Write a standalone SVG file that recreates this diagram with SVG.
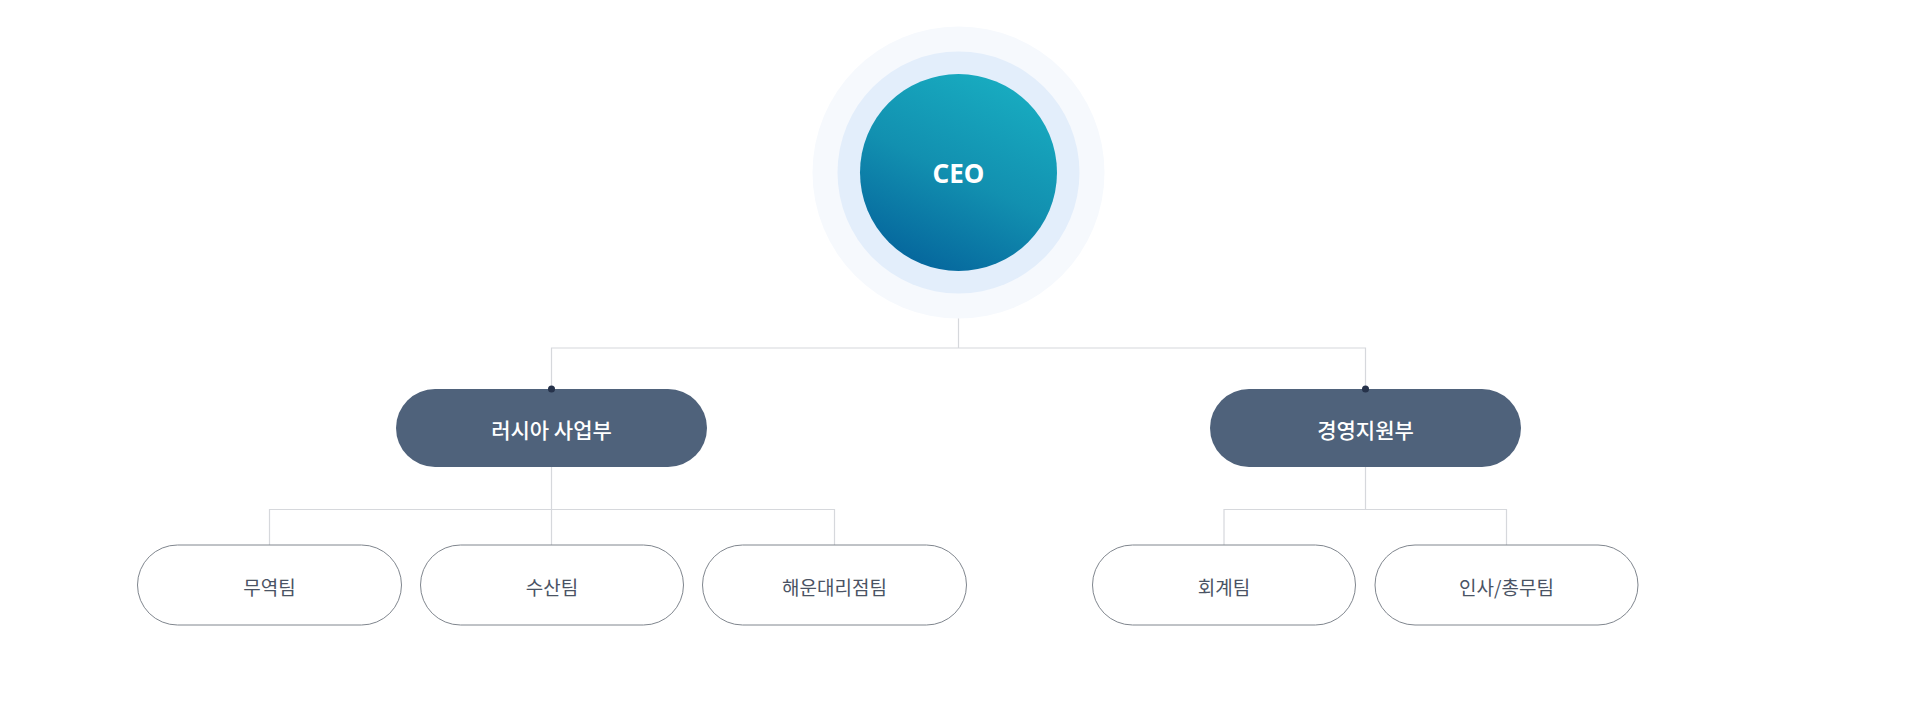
<svg xmlns="http://www.w3.org/2000/svg" width="1919" height="703" viewBox="0 0 1919 703">
  <defs>
    <linearGradient id="ceoGrad" x1="0.75" y1="0.05" x2="0.3" y2="1">
      <stop offset="0" stop-color="#18abc0"/>
      <stop offset="0.5" stop-color="#1290b0"/>
      <stop offset="1" stop-color="#05659c"/>
    </linearGradient>
    <style>
      .conn { stroke: #d6d8dc; stroke-width: 1.2; fill: none; }
      .dot { fill: #26324a; }
      .dept rect { fill: #4f627b; }
      .dept text { fill: #ffffff; font-family: "Noto Sans CJK KR", "Noto Sans", sans-serif; font-size: 21px; font-weight: 500; text-anchor: middle; dominant-baseline: central; }
      .team rect { fill: #ffffff; stroke: #80868e; stroke-width: 1; }
      .team text { fill: #4a5364; font-family: "Noto Sans CJK KR", "Noto Sans", sans-serif; font-size: 19px; font-weight: 400; text-anchor: middle; dominant-baseline: central; }
      .ceo text { fill: #ffffff; font-family: "Noto Sans", "Noto Sans CJK KR", sans-serif; font-size: 26px; font-weight: 700; text-anchor: middle; dominant-baseline: central; }
    </style>
  </defs>
  <rect width="1919" height="703" fill="#ffffff"/>

  <g id="connectors">
    <line class="conn" x1="958.5" y1="290" x2="958.5" y2="348"/>
    <polyline class="conn" points="551.5,389 551.5,348 1365.5,348 1365.5,389"/>
    <line class="conn" x1="551.5" y1="467" x2="551.5" y2="509.5"/>
    <polyline class="conn" points="269.5,545 269.5,509.5 834.5,509.5 834.5,545"/>
    <line class="conn" x1="551.5" y1="509.5" x2="551.5" y2="545"/>
    <line class="conn" x1="1365.5" y1="467" x2="1365.5" y2="509.5"/>
    <polyline class="conn" points="1224,545 1224,509.5 1506.5,509.5 1506.5,545"/>
  </g>

  <g id="ceo" class="ceo">
    <circle cx="958.5" cy="172.5" r="146" fill="#f6f9fd"/>
    <circle cx="958.5" cy="172.5" r="121" fill="#e3eefb"/>
    <circle cx="958.5" cy="172.5" r="98.5" fill="url(#ceoGrad)"/>
    <text x="958.5" y="173">CEO</text>
  </g>

  <g id="dept-russia" class="dept">
    <rect x="396" y="389" width="311" height="78" rx="39" ry="39"/>
    <circle class="dot" cx="551.5" cy="389" r="3.5"/>
    <text x="551.5" y="429">러시아 사업부</text>
  </g>

  <g id="dept-management" class="dept">
    <rect x="1210" y="389" width="311" height="78" rx="39" ry="39"/>
    <circle class="dot" cx="1365.5" cy="389" r="3.5"/>
    <text x="1365.5" y="429">경영지원부</text>
  </g>

  <g id="team-trade" class="team">
    <rect x="137.5" y="545" width="264" height="80" rx="40" ry="40"/>
    <text x="269.5" y="586">무역팀</text>
  </g>

  <g id="team-fishery" class="team">
    <rect x="420.5" y="545" width="263" height="80" rx="40" ry="40"/>
    <text x="552" y="586">수산팀</text>
  </g>

  <g id="team-shipping" class="team">
    <rect x="702.5" y="545" width="264" height="80" rx="40" ry="40"/>
    <text x="834.5" y="586">해운대리점팀</text>
  </g>

  <g id="team-accounting" class="team">
    <rect x="1092.5" y="545" width="263" height="80" rx="40" ry="40"/>
    <text x="1224" y="586">회계팀</text>
  </g>

  <g id="team-hr" class="team">
    <rect x="1375" y="545" width="263" height="80" rx="40" ry="40"/>
    <text x="1506.5" y="586">인사/총무팀</text>
  </g>
</svg>
